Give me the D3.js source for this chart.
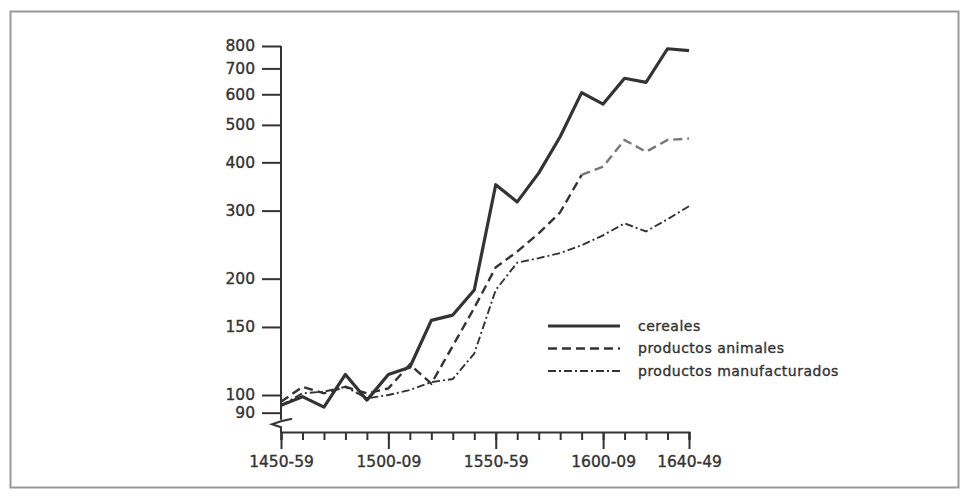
<!DOCTYPE html>
<html>
<head>
<meta charset="utf-8">
<script src="https://cdn.jsdelivr.net/npm/d3@7"></script>
<style>
  body { margin: 0; background: #fff; }
  svg text { font-family: "DejaVu Sans", sans-serif; fill: #333; stroke: #333; stroke-width: 0.35px; }
</style>
</head>
<body>
<svg id="svg"></svg>
<script>
// decades (start year of each ten-year period)
const decades = [1450, 1460, 1470, 1480, 1490, 1500, 1510, 1520, 1530, 1540,
                 1550, 1560, 1570, 1580, 1590, 1600, 1610, 1620, 1630, 1640];

const cereales = [94, 99, 93, 113, 97, 113, 118, 156, 161, 187,
                  350, 316, 375, 466, 606, 566, 660, 644, 787, 778];
const animales = [96, 105, 101, 105, 101, 104, 120, 107, 134, 168,
                  214, 235, 262, 297, 371, 390, 457, 426, 457, 461];
const manufacturados = [94, 101, 102, 105, 98, 100, 103, 108, 110, 128,
                        187, 220, 226, 233, 244, 259, 278, 265, 285, 308];

const yTicks = [90, 100, 150, 200, 300, 400, 500, 600, 700, 800];
const labelledDecades = [1450, 1500, 1550, 1600, 1640];
const xTickLabels = ["1450-59", "1500-09", "1550-59", "1600-09", "1640-49"];

const legendNames = ["cereales", "productos animales", "productos manufacturados"];

const width = 972;
const height = 497;
const ink = "#333";

let svg = d3.select("#svg").attr("width", width).attr("height", height);

// frame round the figure
svg.append("rect")
    .attr("x", 10.5).attr("y", 11.5)
    .attr("width", 948).attr("height", 476)
    .attr("fill", "none")
    .attr("stroke", "#999")
    .attr("stroke-width", 2);

let xScale = d3.scaleLinear().domain([1450, 1640]).range([281, 689]);
let yScale = d3.scaleLog().domain([100, 800]).range([395, 46]);

const axisBottomY = 432;

// y axis: ticks and labels, the line is drawn by hand because of the break
let yAxis = svg.append("g")
    .attr("transform", "translate(281,0)")
    .call(d3.axisLeft(yScale).tickValues(yTicks).tickFormat(d3.format("d"))
        .tickSize(19).tickPadding(7));
yAxis.select(".domain").remove();
yAxis.selectAll("line").attr("stroke", ink).attr("stroke-width", 2);
yAxis.selectAll("text").style("font-size", "15.5px").attr("fill", ink);

// axis line with the break mark near the bottom
const breakTop = yScale(90) + 7;
svg.append("path")
    .attr("d", `M281,${yScale(800)}V${breakTop}` +
        `M292,${breakTop - 1}L281,${breakTop + 1.5}L272,${breakTop + 4.5}L281,${breakTop + 7.5}` +
        `V${axisBottomY + 1}`)
    .attr("fill", "none")
    .attr("stroke", ink)
    .attr("stroke-width", 2);

// x axis: short ticks for every decade
let xMinor = svg.append("g")
    .attr("transform", `translate(0,${axisBottomY})`)
    .call(d3.axisBottom(xScale).tickValues(decades).tickSize(8).tickFormat(""));
xMinor.select(".domain").attr("stroke", ink).attr("stroke-width", 2);
xMinor.selectAll("line").attr("stroke", ink).attr("stroke-width", 2);

// x axis: long ticks with labels
let xMajor = svg.append("g")
    .attr("transform", `translate(0,${axisBottomY})`)
    .call(d3.axisBottom(xScale).tickValues(labelledDecades).tickSize(17).tickPadding(7)
        .tickFormat((d, i) => xTickLabels[i]));
xMajor.select(".domain").remove();
xMajor.selectAll("line").attr("stroke", ink).attr("stroke-width", 2);
xMajor.selectAll("text").style("font-size", "15.5px").attr("fill", ink);

let line = d3.line()
    .x((d, i) => xScale(decades[i]))
    .y(d => yScale(d));

const styles = [
    { width: 3.2, dash: null },
    { width: 2.4, dash: "9,5" },
    { width: 1.9, dash: "8,3,2,3" }
];

// cereales
svg.append("path")
    .attr("d", line(cereales))
    .attr("fill", "none").attr("stroke", ink)
    .attr("stroke-width", styles[0].width)
    .attr("stroke-linejoin", "round");

// productos animales: the later part prints lighter in the reference
let animLine = d3.line()
    .x(d => xScale(d[0]))
    .y(d => yScale(d[1]));
let animPts = animales.map((v, i) => [decades[i], v]);
svg.append("path")
    .attr("d", animLine(animPts.slice(0, 15)))
    .attr("fill", "none").attr("stroke", ink)
    .attr("stroke-width", styles[1].width)
    .attr("stroke-dasharray", styles[1].dash);
svg.append("path")
    .attr("d", animLine(animPts.slice(14)))
    .attr("fill", "none").attr("stroke", "#777")
    .attr("stroke-width", styles[1].width)
    .attr("stroke-dasharray", styles[1].dash);

// productos manufacturados
svg.append("path")
    .attr("d", line(manufacturados))
    .attr("fill", "none").attr("stroke", ink)
    .attr("stroke-width", styles[2].width)
    .attr("stroke-dasharray", styles[2].dash);

// legend
let legend = svg.append("g").attr("transform", "translate(548,326)");
legendNames.forEach((name, i) => {
    let row = legend.append("g").attr("transform", `translate(0,${i * 22.5})`);
    row.append("line")
        .attr("x1", 0).attr("x2", 72)
        .attr("stroke", ink)
        .attr("stroke-width", styles[i].width)
        .attr("stroke-dasharray", styles[i].dash);
    row.append("text")
        .attr("x", 90).attr("dy", "0.35em")
        .style("font-size", "14px")
        .style("letter-spacing", "0.5px")
        .text(name);
});
</script>
</body>
</html>
